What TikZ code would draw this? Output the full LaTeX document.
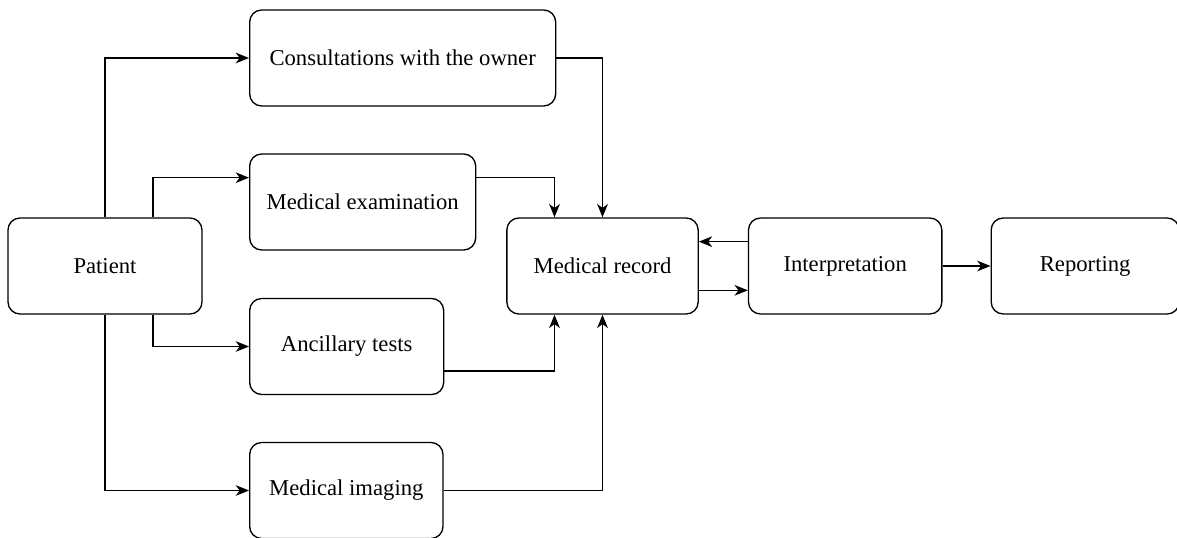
\documentclass[tikz,border=0pt]{standalone}
\usepackage{fontspec}
\setmainfont{Liberation Serif}
\usetikzlibrary{arrows.meta, positioning, calc}

\begin{document}
\begin{tikzpicture}[x=0.75pt, y=-0.75pt]
  \newcommand\chainspacing{36.75pt}
  \newcommand\sideoffset{48}

  \tikzset{blk/.style={draw, line width=1pt, rounded corners=9pt, minimum height=72pt, font=\fontsize{17pt}{20pt}\selectfont}}
  \tikzset{ptr/.style={-{Stealth[length=10pt, width=8pt, inset=3pt]}, line width=1pt}}

  \useasboundingbox (0, 0) rectangle (1177, 538);

  % sources
  \node[blk, minimum width=145.5pt] at (105, 266) (patient) {Patient};
  \foreach \name/\w/\y/\txt in {consult/229.5/58/Consultations with the owner, medexam/169.5/202/Medical examination, ancil/145.5/346.5/Ancillary tests, imaging/145/490.5/Medical imaging}{
    \node[blk, anchor=west, minimum width=\w pt] at (249, \y) (\name) {\txt};
  }

  % record chain
  \node[blk, minimum width=143.5pt] at (602.5, 266) (record) {Medical record};
  \node[blk, minimum width=145pt, right=\chainspacing of record] (interp) {Interpretation};
  \node[blk, minimum width=141pt, right=36pt of interp] (report) {Reporting};

  % patient -> sources
  \draw[ptr] (patient.north) |- (consult.west);
  \draw[ptr] ($(patient.north)+(\sideoffset, 0)$) |- ($(medexam.north west)!0.25!(medexam.south west)$);
  \draw[ptr] ($(patient.south)+(\sideoffset, 0)$) |- (ancil.west);
  \draw[ptr] (patient.south) |- (imaging.west);

  % sources -> record
  \draw[ptr] (consult.east) -| (record.north);
  \draw[ptr] ($(medexam.north east)!0.25!(medexam.south east)$) -| ($(record.north)+(-\sideoffset, 0)$);
  \draw[ptr] ($(ancil.north east)!0.75!(ancil.south east)$) -| ($(record.south)+(-\sideoffset, 0)$);
  \draw[ptr] (imaging.east) -| (record.south);

  % record <-> interpretation -> reporting
  \draw[ptr] ($(interp.north west)!0.25!(interp.south west)$) -- ($(record.north east)!0.25!(record.south east)$);
  \draw[ptr] ($(record.north east)!0.75!(record.south east)$) -- ($(interp.north west)!0.75!(interp.south west)$);
  \draw[ptr] (interp) -- (report);
\end{tikzpicture}
\end{document}
